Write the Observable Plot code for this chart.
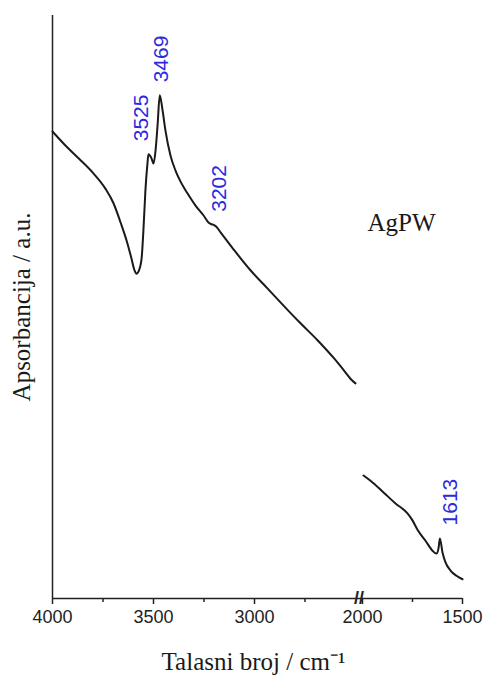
<!DOCTYPE html>
<html>
<head>
<meta charset="utf-8">
<script src="https://cdn.jsdelivr.net/npm/d3@7"></script>
<script src="https://cdn.jsdelivr.net/npm/@observablehq/plot@0.6"></script>
<style>
  body { margin: 0; background: #fff; }
</style>
</head>
<body>
<div id="chart"></div>
<script>
// FTIR spectrum of AgPW — high wavenumber region (4000–2500 cm⁻¹)
const highWavenumber = [
  4000, 3936, 3871, 3802, 3738, 3698, 3663, 3629, 3609, 3594, 3584, 3574, 3559,
  3550, 3540, 3530, 3525, 3510, 3500, 3490, 3480, 3469, 3455, 3441, 3416, 3391,
  3366, 3332, 3292, 3252, 3228, 3213, 3202, 3190, 3168, 3104, 3020, 2936, 2847,
  2772, 2688, 2609, 2550, 2525, 2500
];
const highAbsorbance = [
  0.801, 0.777, 0.755, 0.731, 0.703, 0.678, 0.645, 0.609, 0.583, 0.563, 0.557, 0.561, 0.583,
  0.631, 0.700, 0.746, 0.762, 0.755, 0.746, 0.768, 0.811, 0.863, 0.837, 0.803, 0.760, 0.734,
  0.715, 0.695, 0.674, 0.657, 0.645, 0.642, 0.641, 0.638, 0.628, 0.599, 0.563, 0.532, 0.499,
  0.472, 0.443, 0.413, 0.388, 0.377, 0.369
];

// Low wavenumber region (2000–1500 cm⁻¹)
const lowWavenumber = [
  1995, 1960, 1895, 1835, 1775, 1750, 1725, 1685, 1650, 1630, 1620, 1613, 1600,
  1585, 1560, 1530, 1500
];
const lowAbsorbance = [
  0.211, 0.202, 0.182, 0.163, 0.146, 0.134, 0.118, 0.099, 0.082, 0.077, 0.086, 0.103, 0.079,
  0.062, 0.048, 0.039, 0.033
];

// Annotated band positions (cm⁻¹)
const peakLabels = [3525, 3469, 3202, 1613];

// Axis ticks
const majorTicks = [4000, 3500, 3000, 2000, 1500];
const minorTicks = [3750, 3250, 2750, 1750];

const sampleName = "AgPW";
const xTitle = "Talasni broj / cm\u207B\u00B9";
const yTitle = "Apsorbancija / a.u.";

const high = highWavenumber.map((w, i) => ({w, a: highAbsorbance[i]}));
const low = lowWavenumber.map((w, i) => ({w, a: lowAbsorbance[i]}));
const all = high.concat(low);
const absorbanceAt = (w) => all.find((d) => d.w === w).a;

const sans = "'Liberation Sans', Arial, Helvetica, sans-serif";
const serif = "'Liberation Serif', 'Times New Roman', Times, serif";
const ink = "#1a1a1a";
const blue = "#2a2ae0";

// Per-label nudges for the rotated band annotations
const labelOffset = {3525: -7, 3469: 2, 3202: 6, 1613: 10};

const peakMarks = peakLabels.map((p) =>
  Plot.text([p], {
    x: (d) => d,
    y: (d) => absorbanceAt(d),
    text: (d) => String(d),
    rotate: -90,
    textAnchor: "start",
    lineAnchor: "middle",
    dx: labelOffset[p],
    dy: -13,
    fill: blue,
    fontSize: 21,
    fontFamily: sans
  })
);

const chart = Plot.plot({
  width: 485,
  height: 677,
  marginTop: 15,
  marginBottom: 79,
  marginLeft: 52,
  marginRight: 23,
  style: {fontFamily: sans, background: "#fff", color: ink},
  // Broken axis: 4000–2500 on the left, 2000–1500 on the right
  x: {type: "linear", domain: [4000, 2500, 2000, 1500], range: [52, 355, 362, 462]},
  y: {domain: [0, 1], axis: null},
  marks: [
    Plot.axisX({
      ticks: majorTicks,
      tickSize: 6,
      tickPadding: 6,
      tickFormat: (d) => String(d),
      label: null,
      fontSize: 18,
      fontFamily: sans,
      color: "#222",
      strokeWidth: 1.5
    }),
    Plot.axisX({
      ticks: minorTicks,
      tickSize: 4,
      tickFormat: () => "",
      label: null,
      color: "#222",
      strokeWidth: 1.5
    }),
    Plot.ruleY([0], {stroke: "#222", strokeWidth: 1.5}),
    Plot.ruleX([4000], {stroke: "#222", strokeWidth: 1.5}),
    // Axis break symbol
    Plot.text([2250], {
      x: (d) => d,
      y: () => 0,
      text: () => "//",
      fontSize: 18,
      fontWeight: "bold",
      fontFamily: sans,
      fill: "#222",
      lineAnchor: "middle",
      textAnchor: "middle"
    }),
    Plot.line(high, {x: "w", y: "a", stroke: ink, strokeWidth: 2, curve: "monotone-x"}),
    Plot.line(low, {x: "w", y: "a", stroke: ink, strokeWidth: 2, curve: "monotone-x"}),
    ...peakMarks,
    Plot.text([sampleName], {
      text: (d) => d,
      frameAnchor: "top-left",
      dx: 315,
      dy: 215,
      textAnchor: "start",
      lineAnchor: "bottom",
      fontFamily: serif,
      fontSize: 25,
      fill: ink
    }),
    Plot.text([yTitle], {
      text: (d) => d,
      frameAnchor: "left",
      rotate: -90,
      dx: -31,
      textAnchor: "middle",
      lineAnchor: "middle",
      fontFamily: serif,
      fontSize: 25,
      fill: ink
    }),
    Plot.text([xTitle], {
      text: (d) => d,
      frameAnchor: "bottom",
      dx: -4,
      dy: 71,
      textAnchor: "middle",
      lineAnchor: "bottom",
      fontFamily: serif,
      fontSize: 25,
      fill: ink
    })
  ]
});

document.getElementById("chart").appendChild(chart);
</script>
</body>
</html>
